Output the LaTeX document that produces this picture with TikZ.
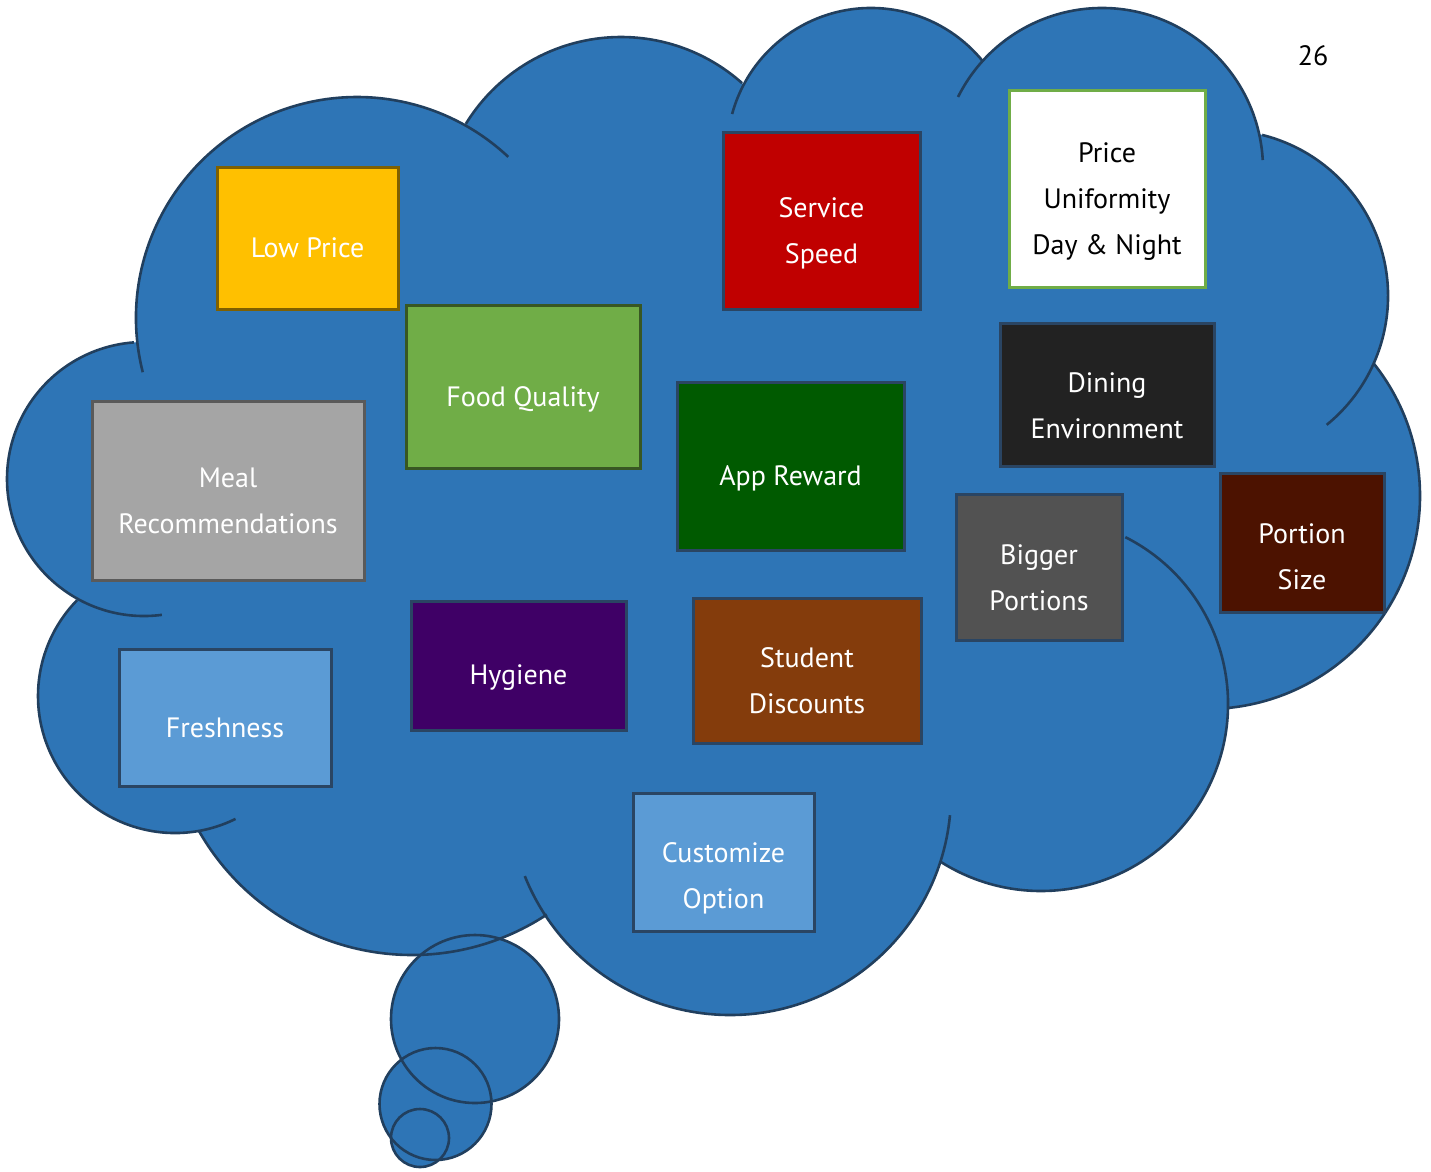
\documentclass[tikz,border=0pt]{standalone}
\usepackage{fontspec}
\setmainfont{PT Sans}
\definecolor{cloudblue}{HTML}{2E75B6}
\definecolor{cloudedge}{HTML}{213F5E}
\definecolor{boxedge}{HTML}{2A4563}
\definecolor{goldedge}{HTML}{7F6000}
\definecolor{leafedge}{HTML}{385723}
\definecolor{grayedge}{HTML}{5A5A5A}
\definecolor{lowprice}{HTML}{FFC000}
\definecolor{leaf}{HTML}{70AD47}
\definecolor{speedred}{HTML}{C00000}
\definecolor{dineblack}{HTML}{222222}
\definecolor{appgreen}{HTML}{005A00}
\definecolor{mealgray}{HTML}{A5A5A5}
\definecolor{biggergray}{HTML}{525252}
\definecolor{portionbrown}{HTML}{4C1200}
\definecolor{hygienepurple}{HTML}{3F0066}
\definecolor{studentbrown}{HTML}{843C0C}
\definecolor{skyblue}{HTML}{5B9BD5}
\begin{document}
\begin{tikzpicture}[x=1pt,y=-1pt,
  cloudline/.style={draw=cloudedge, line width=2.6pt},
  box/.style={draw=boxedge, line width=3pt, inner sep=0pt, outer sep=0pt},
  lbl/.style={text=white, align=center, inner sep=0pt,
              font=\fontsize{28}{46}\selectfont},
]
\useasboundingbox (0,0) rectangle (1431,1171);

% ---- cloud body: bumps (centre x / centre y / radius / arc from / arc to)
\def\bumps{357/318/221/165.8/313.2,
           621/219/182/211.5/311.7,
           871/152/144/195.3/321.2,
           1102/169/161/206.6/356.8,
           1222/296/166/-76/50.9,
           1207/496/213/-38.3/84.3,
           1041/704/187/-63.2/122.3,
           730/794/221/5.5/158.2,
           412/710/245/56.6/150.5,
           175/696/137/63.8/224.4,
           144/479/137/82.5/265.8}

% thought bubbles below the cloud (centre x / centre y / radius)
\def\puffs{475/1019/84, 435.5/1104/56, 420/1138/29}

% fills first
\fill[cloudblue] (357,318) -- (621,219) -- (871,152) -- (1102,169) -- (1222,296)
  -- (1207,496) -- (1041,704) -- (730,794) -- (412,710) -- (175,696) -- (144,479) -- cycle;
\foreach \cx/\cy/\r/\a/\b in \bumps
  \fill[cloudblue] (\cx,\cy) circle[radius=\r];
\foreach \cx/\cy/\r in \puffs
  \fill[cloudblue] (\cx,\cy) circle[radius=\r];

% outlines on top
\foreach \cx/\cy/\r/\a/\b in \bumps
  \draw[cloudline] (\cx,\cy) ++(\a:\r) arc[start angle=\a, end angle=\b, radius=\r];
\foreach \cx/\cy/\r in \puffs
  \draw[cloudline] (\cx,\cy) circle[radius=\r];

% ---- boxes
\node[box, draw=goldedge, fill=lowprice, minimum width=181, minimum height=142] (lowbox) at (307.5,238) {};
\node[box, draw=leafedge, fill=leaf, minimum width=234, minimum height=163] (foodbox) at (523,386.5) {};
\node[box, fill=speedred, minimum width=197, minimum height=177] (speedbox) at (821.5,220.5) {};
\node[box, draw=leaf, fill=white, minimum width=196, minimum height=197] (pricebox) at (1107,188.5) {};
\node[box, fill=dineblack, minimum width=214, minimum height=143] (dinebox) at (1107,394.5) {};
\node[box, fill=appgreen, minimum width=227, minimum height=168] (appbox) at (790.5,466) {};
\node[box, draw=grayedge, fill=mealgray, minimum width=272, minimum height=179] (mealbox) at (228,490.5) {};
\node[box, fill=biggergray, minimum width=166, minimum height=146] (biggerbox) at (1039,567) {};
\node[box, fill=portionbrown, minimum width=164, minimum height=139] (portionbox) at (1302,542.5) {};
\node[box, fill=hygienepurple, minimum width=215, minimum height=129] (hygienebox) at (518.5,665.5) {};
\node[box, fill=studentbrown, minimum width=228, minimum height=145] (studentbox) at (807,670.5) {};
\node[box, fill=skyblue, minimum width=212, minimum height=137] (freshbox) at (225,717.5) {};
\node[box, fill=skyblue, minimum width=181, minimum height=138] (custombox) at (723.5,862) {};

% ---- labels
\node[lbl] (lowtext) at (307.5,248) {Low Price};
\node[lbl] (foodtext) at (523,399) {Food Quality};
\node[lbl] (speedtext) at (821.5,233) {Service\\Speed};
\node[lbl, text=black] (pricetext) at (1107,201.5) {Price\\Uniformity\\Day \& Night};
\node[lbl] (dinetext) at (1107,405.5) {Dining\\Environment};
\node[lbl] (apptext) at (790.5,478) {App Reward};
\node[lbl] (mealtext) at (228,501) {Meal\\Recommendations};
\node[lbl] (biggertext) at (1039,578) {Bigger\\Portions};
\node[lbl] (portiontext) at (1302,556.5) {Portion\\Size};
\node[lbl] (hygienetext) at (518.5,678) {Hygiene};
\node[lbl] (studenttext) at (807,680.5) {Student\\Discounts};
\node[lbl] (freshtext) at (225,728) {Freshness};
\node[lbl] (customtext) at (723.5,878.5) {Customize\\Option};

% page number
\node[lbl, text=black] (pagenum) at (1313,56) {26};
\end{tikzpicture}
\end{document}
